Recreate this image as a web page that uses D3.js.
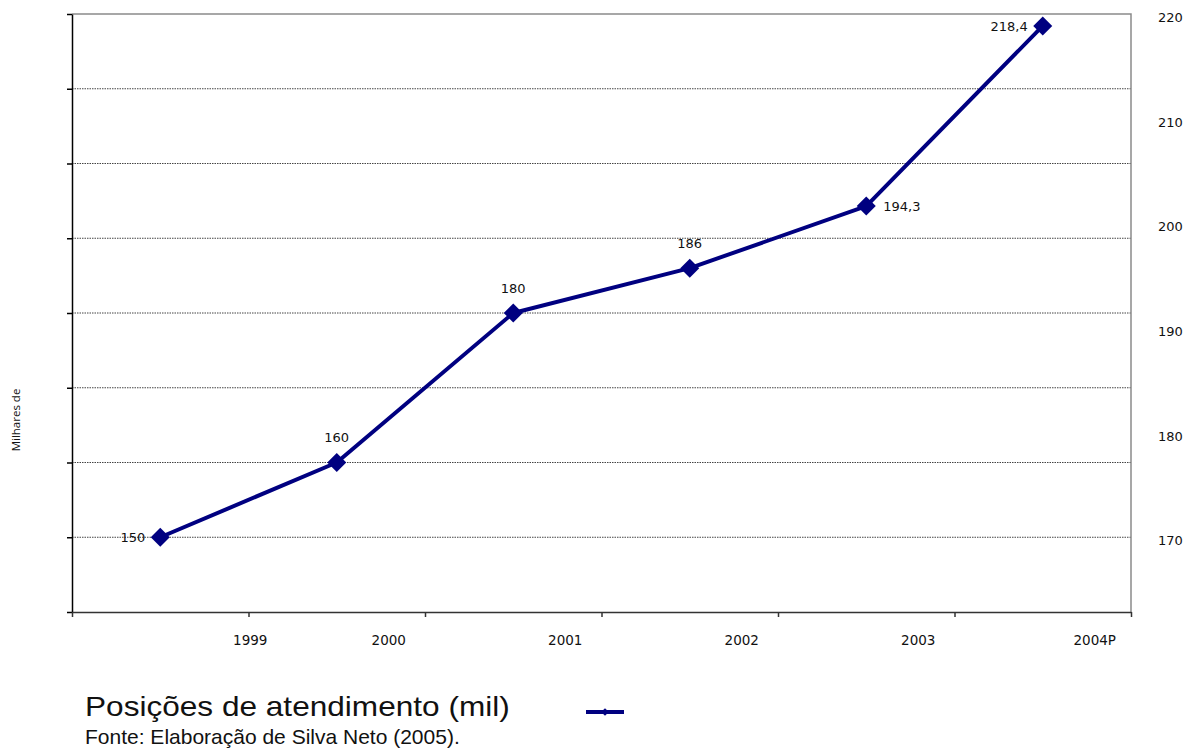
<!DOCTYPE html>
<html>
<head>
<meta charset="utf-8">
<script src="https://cdn.jsdelivr.net/npm/d3@7"></script>
<style>
body { margin: 0; background: #fff; }
</style>
</head>
<body>
<div id="chart"></div>
<script>
// data
var years = ["1999", "2000", "2001", "2002", "2003", "2004P"];
var posicoes = [150, 160, 180, 186, 194.3, 218.4];
var valueLabels = ["150", "160", "180", "186", "194,3", "218,4"];
var labelSide = ["left", "top", "top", "top", "right", "left"];
var leftTicks = [140, 150, 160, 170, 180, 190, 200, 210, 220];
var rightTicks = [170, 180, 190, 200, 210, 220];

var svgWidth = 1195;
var svgHeight = 749;
var plot = { left: 72, right: 1131, top: 14, bottom: 612 };
var smallFont = "DejaVu Sans, Verdana, sans-serif";
var legendFont = "Liberation Sans, Arial, Helvetica, sans-serif";

var svg = d3.select("#chart")
  .append("svg")
  .attr("width", svgWidth)
  .attr("height", svgHeight);

// scales
var x = d3.scaleBand()
  .domain(years)
  .range([plot.left, plot.right]);
var xIdx = d3.scaleLinear()
  .domain([0, years.length])
  .range([plot.left, plot.right]);
var y = d3.scaleLinear()
  .domain([140, 220])
  .range([plot.bottom, plot.top]);
var yRight = d3.scaleLinear()
  .domain([163.2, 220.3])
  .range([plot.bottom, plot.top]);

var cx = function(d, i) { return x(years[i]) + x.bandwidth() / 2; };

// gridlines
svg.append("g")
  .selectAll("line")
  .data(leftTicks.filter(function(t) { return t > 140 && t < 220; }))
  .enter()
  .append("line")
  .attr("x1", plot.left)
  .attr("x2", plot.right)
  .attr("y1", d => y(d))
  .attr("y2", d => y(d))
  .attr("stroke", "#444")
  .attr("stroke-width", 1)
  .attr("stroke-dasharray", "1.5,1");

// top and right border
svg.append("path")
  .attr("d", `M${plot.left},${plot.top}H${plot.right}V${plot.bottom}`)
  .attr("fill", "none")
  .attr("stroke", "#8a8a8a")
  .attr("stroke-width", 1.5);

// left axis (ticks only)
var leftAxis = svg.append("g")
  .attr("transform", `translate(${plot.left},0)`)
  .call(d3.axisLeft(y).tickValues(leftTicks).tickSize(5).tickSizeOuter(0).tickFormat(""));
leftAxis.selectAll("path, line").attr("stroke", "#000").attr("stroke-width", 1.5);

// bottom axis: ticks on the band edges
var bottomAxis = svg.append("g")
  .attr("transform", `translate(0,${plot.bottom})`)
  .call(d3.axisBottom(xIdx).tickValues(d3.range(years.length + 1)).tickSize(5).tickSizeOuter(0).tickFormat(""));
bottomAxis.selectAll("path, line").attr("stroke", "#333").attr("stroke-width", 1.5);

// year labels
svg.append("g")
  .selectAll("text")
  .data(years)
  .enter()
  .append("text")
  .attr("x", (d, i) => x(d) + x.bandwidth() / 2 + (i === 0 ? 90 : 52))
  .attr("y", 640)
  .attr("dy", "0.35em")
  .attr("text-anchor", "middle")
  .style("font-family", smallFont)
  .style("font-size", "13.5px")
  .attr("fill", "#111")
  .text(d => d);

// right axis labels
var rightAxis = svg.append("g")
  .attr("transform", `translate(${plot.right},0)`)
  .call(d3.axisRight(yRight).tickValues(rightTicks).tickSize(0).tickPadding(27));
rightAxis.select(".domain").remove();
rightAxis.selectAll("text")
  .style("font-family", smallFont)
  .style("font-size", "13px")
  .attr("fill", "#111");

// y title
svg.append("text")
  .attr("transform", "translate(20,420) rotate(-90)")
  .attr("text-anchor", "middle")
  .style("font-family", "Open Sans, sans-serif")
  .style("font-size", "11.5px")
  .attr("fill", "#111")
  .text("Milhares de");

// line
var line = d3.line()
  .x(cx)
  .y(d => y(d));

svg.append("path")
  .datum(posicoes)
  .attr("d", line)
  .attr("fill", "none")
  .attr("stroke", "#000080")
  .attr("stroke-width", 4)
  .attr("stroke-linejoin", "round");

var diamond = d3.symbol().type(d3.symbolSquare).size(180);
svg.append("g")
  .selectAll("path")
  .data(posicoes)
  .enter()
  .append("path")
  .attr("d", diamond)
  .attr("transform", (d, i) => `translate(${cx(d, i)},${y(d)}) rotate(45)`)
  .attr("fill", "#000080");

// value labels
svg.append("g")
  .selectAll("text")
  .data(posicoes)
  .enter()
  .append("text")
  .attr("x", function(d, i) {
    if (labelSide[i] === "left") return cx(d, i) - 15;
    if (labelSide[i] === "right") return cx(d, i) + 17;
    return cx(d, i);
  })
  .attr("y", (d, i) => labelSide[i] === "top" ? y(d) - 25 : y(d))
  .attr("dy", "0.35em")
  .attr("text-anchor", (d, i) => labelSide[i] === "left" ? "end" : labelSide[i] === "right" ? "start" : "middle")
  .style("font-family", smallFont)
  .style("font-size", "13px")
  .attr("fill", "#111")
  .text((d, i) => valueLabels[i]);

// legend (the title is drawn a bit wide, like the original)
svg.append("text")
  .attr("transform", "translate(85,716) scale(1.17,1)")
  .style("font-family", legendFont)
  .style("font-size", "27px")
  .attr("fill", "#111")
  .text("Posições de atendimento (mil)");

svg.append("line")
  .attr("x1", 586)
  .attr("x2", 624)
  .attr("y1", 712)
  .attr("y2", 712)
  .attr("stroke", "#000080")
  .attr("stroke-width", 4);
svg.append("path")
  .attr("d", d3.symbol().type(d3.symbolSquare).size(30))
  .attr("transform", "translate(605,712) rotate(45)")
  .attr("fill", "#000080");

svg.append("text")
  .attr("x", 85)
  .attr("y", 744)
  .style("font-family", legendFont)
  .style("font-size", "21px")
  .attr("fill", "#111")
  .text("Fonte: Elaboração de Silva Neto (2005).");
</script>
</body>
</html>
